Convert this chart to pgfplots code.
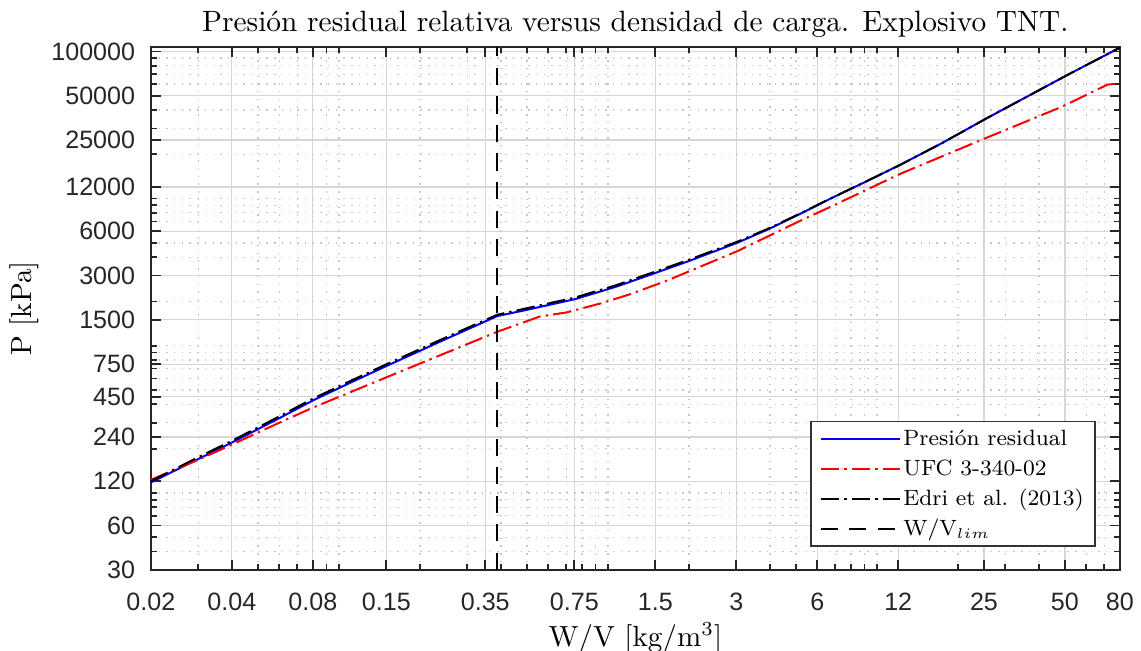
\documentclass[border=0pt]{standalone}
\usepackage{fontspec}
\newfontfamily\ticksf{Liberation Sans}
\usepackage{pgfplots}
\pgfplotsset{compat=1.18}
\begin{document}
\begin{tikzpicture}
\useasboundingbox (-52.9pt,-28.4pt) rectangle (347.1pt,199.8pt);
\begin{axis}[
  at={(0pt,0pt)}, anchor=south west,
  scale only axis, width=339.7pt, height=183.3pt,
  xmode=log, ymode=log,
  xmin=0.02, xmax=80, ymin=30, ymax=1.07e5,
  xtick={0.02,0.04,0.08,0.15,0.35,0.75,1.5,3,6,12,25,50,80},
  xticklabels={0.02,0.04,0.08,0.15,0.35,0.75,1.5,3,6,12,25,50,80},
  minor xtick={0.03,0.05,0.06,0.07,0.09,0.1,0.2,0.3,0.4,0.5,0.6,0.7,0.8,0.9,1,2,4,5,7,8,9,10,20,30,40,60,70},
  ytick={30,60,120,240,450,750,1500,3000,6000,12000,25000,50000,100000},
  yticklabels={30,60,120,240,450,750,1500,3000,6000,12000,25000,50000,100000},
  minor ytick={40,50,70,80,90,100,200,300,400,500,600,700,800,900,1000,2000,4000,5000,7000,8000,9000,10000,20000,30000,40000,60000,70000,80000,90000},
  grid=both,
  major grid style={line width=0.4pt, color=black!16},
  minor grid style={line width=0.45pt, color=black!22, dash pattern=on 0.5pt off 2.2pt},
  tick align=inside,
  major tick length=3.5pt, minor tick length=2pt,
  axis line style={color=black!85, line width=0.8pt},
  every tick/.style={color=black!85, line width=0.6pt},
  tick label style={font=\ticksf\fontsize{8.8}{10}\selectfont, text=black!85},
  xticklabel style={yshift=-4.5pt},
  yticklabel style={xshift=-2pt},
  title={Presión residual relativa versus densidad de carga. Explosivo TNT.},
  title style={at={(0.5,1)}, anchor=base, yshift=-0.4pt, font=\fontsize{10.3}{12}\selectfont},
  xlabel={W/V [kg/m$^3$]},
  xlabel style={yshift=2.5pt, font=\fontsize{10.2}{12}\selectfont},
  ylabel={P [kPa]},
  ylabel style={yshift=-2.5pt, font=\fontsize{10.2}{12}\selectfont},
  legend cell align=left,
  legend image code/.code={\draw[#1] (0pt,0pt) -- (27.7pt,0pt);},
  legend style={at={(1,0)}, anchor=south east, xshift=-8.4pt, yshift=8.1pt,
    draw=black!80, line width=0.5pt, fill=white,
    font=\fontsize{7.75}{9.5}\selectfont, row sep=0pt,
    inner xsep=3pt, inner ysep=0.6pt,
    nodes={inner sep=1pt, text height=6.6pt, text depth=2.0pt}},
]
\addplot[blue, line width=0.7pt] coordinates {
(0.02,118) (0.03,170) (0.04,220) (0.06,322) (0.08,425) (0.11,560) (0.15,728) (0.25,1112) (0.388,1592)
(0.5,1755) (0.754,2073) (1.077,2525) (1.52,3150) (2.0,3765) (3.05,5040) (4.0,6260) (5.17,7860) (6.68,9940)
(9.0,12920) (12.2,16950) (17.5,23880) (25.4,34870) (35,47740) (50.7,68700) (80,106000)};
\addlegendentry{Presión residual}
\addplot[red, line width=0.7pt, dash pattern=on 6.5pt off 1.8pt on 0.8pt off 1.8pt] coordinates {
(0.02,123) (0.03,168) (0.04,213) (0.06,300) (0.08,380) (0.11,483) (0.15,610) (0.25,895) (0.388,1245)
(0.558,1580) (0.7,1683) (0.95,1950) (1.21,2241) (1.65,2761) (3.05,4420) (5.17,7050) (6.68,8740)
(12.2,14720) (25.4,25770) (48.6,42000) (72,59500) (80,60500)};
\addlegendentry{UFC 3-340-02}
\addplot[black, line width=0.7pt, dash pattern=on 6.5pt off 1.8pt on 0.8pt off 1.8pt] coordinates {
(0.02,120) (0.03,175) (0.04,226) (0.06,331) (0.08,437) (0.11,575) (0.15,748) (0.25,1140) (0.388,1625)
(0.5,1800) (0.754,2125) (1.077,2585) (1.52,3220) (2.0,3840) (3.05,5120) (4.0,6320) (5.17,7900) (6.68,9960)
(9.0,12920) (12.2,16950) (17.5,23880) (25.4,34870) (35,47740) (50.7,68700) (80,106000)};
\addlegendentry{Edri et al. (2013)}
\addplot[black, line width=0.7pt, dash pattern=on 6pt off 4pt] coordinates {(0.388,30) (0.388,1.07e5)};
\addlegendentry{W/V$_{lim}$}
\end{axis}
\end{tikzpicture}
\end{document}
